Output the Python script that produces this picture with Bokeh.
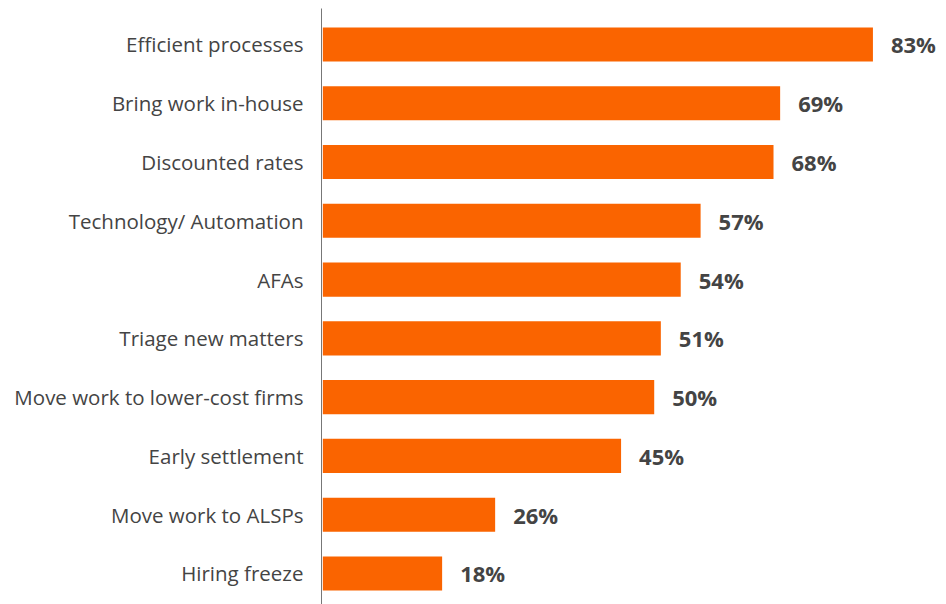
from bokeh.plotting import figure
from bokeh.models import ColumnDataSource, Range1d, FixedTicker, LabelSet
from bokeh.core.properties import value
from bokeh.embed import file_html
from bokeh.resources import INLINE

categories = ["Efficient processes", "Bring work in-house", "Discounted rates",
              "Technology/ Automation", "AFAs", "Triage new matters",
              "Move work to lower-cost firms", "Early settlement",
              "Move work to ALSPs", "Hiring freeze"]
values = [83, 69, 68, 57, 54, 51, 50, 45, 26, 18]

pos = [-i for i in range(len(categories))]
labels = [f"{v}%" for v in values]

src = ColumnDataSource(dict(y=pos, v=values, lab=labels))

FONT = "Open Sans"
TEXT = "#444444"

p = figure(width=946, height=604, output_backend="svg", toolbar_location=None,
           x_range=Range1d(-0.2, 94.1), y_range=Range1d(-9.528, 0.612),
           x_axis_location=None, min_border_left=321, min_border_right=0,
           min_border_top=8, min_border_bottom=0)
p.outline_line_color = None
p.xgrid.visible = False
p.ygrid.visible = False

p.hbar(y="y", right="v", left=0, height=0.58, source=src,
       fill_color="#FA6400", line_color=None)

p.add_layout(LabelSet(x="v", y="y", text="lab", source=src, x_offset=18,
                      text_baseline="middle", text_align="left",
                      text_font=value(FONT), text_font_style="bold",
                      text_font_size="22px", text_color=TEXT))

ax = p.yaxis[0]
ax.ticker = FixedTicker(ticks=pos)
ax.major_label_overrides = {k: c for k, c in zip(pos, categories)}
ax.major_tick_out = 0
ax.major_tick_in = 0
ax.minor_tick_out = 0
ax.minor_tick_in = 0
ax.major_label_standoff = 18
ax.axis_line_color = "#777777"
ax.axis_line_width = 1
ax.major_label_text_font = FONT
ax.major_label_text_font_size = "20.5px"
ax.major_label_text_color = TEXT

open("out.html", "w").write(file_html(p, INLINE))
